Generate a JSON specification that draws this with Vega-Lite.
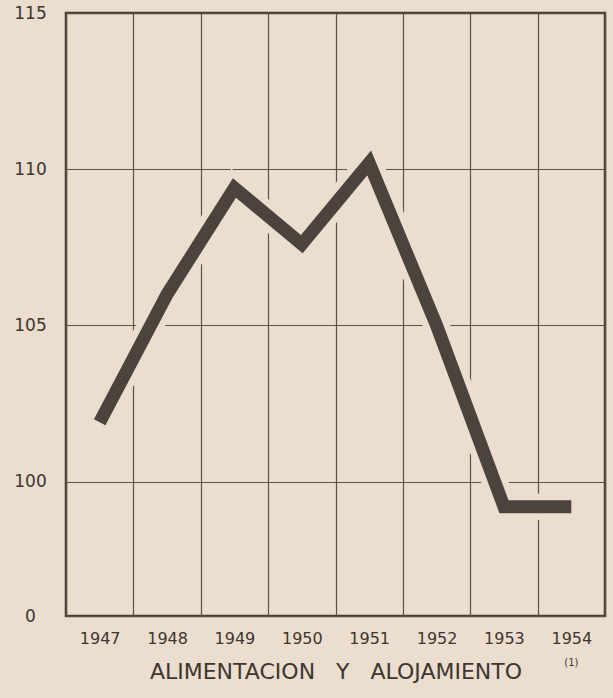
{
  "$schema": "https://vega.github.io/schema/vega-lite/v6.json",
  "autosize": "none",
  "width": 539,
  "height": 603,
  "padding": {"left": 66, "top": 13, "right": 8, "bottom": 82},
  "background": "#ebdecf",
  "config": {
    "view": {"stroke": "#463d36", "strokeWidth": 2.5, "fill": null},
    "font": "DejaVu Sans",
    "axis": {"labelFont": "DejaVu Sans", "titleFont": "DejaVu Sans", "labelColor": "#3d3530", "titleColor": "#3d3530"}
  },
  "data": {
    "values": [
      {"year": "1947", "value": 101.9},
      {"year": "1948", "value": 106.0},
      {"year": "1949", "value": 109.4},
      {"year": "1950", "value": 107.6},
      {"year": "1951", "value": 110.2},
      {"year": "1952", "value": 105.0},
      {"year": "1953", "value": 99.2},
      {"year": "1954", "value": 99.2}
    ]
  },
  "encoding": {
    "x": {
      "field": "year",
      "type": "ordinal",
      "scale": {"type": "band", "paddingInner": 0, "paddingOuter": 0},
      "axis": {
        "title": "ALIMENTACION\u00a0\u00a0\u00a0Y\u00a0\u00a0\u00a0ALOJAMIENTO",
        "titleFontSize": 22,
        "titleFontWeight": "normal",
        "titlePadding": 15,
        "labelFontSize": 16,
        "labelAngle": 0,
        "labelPadding": 14,
        "ticks": false,
        "domain": false,
        "grid": true,
        "tickBand": "extent",
        "gridColor": "#5a5048",
        "gridWidth": 1.2,
        "gridOpacity": 1
      }
    },
    "y": {
      "field": "value",
      "type": "quantitative",
      "scale": {"domain": [95.7, 115], "nice": false, "zero": false},
      "axis": {
        "title": null,
        "values": [95.7, 100, 105, 110, 115],
        "labelExpr": "datum.value < 99 ? '0' : datum.label",
        "labelFontSize": 17,
        "labelAlign": "center",
        "labelBaseline": "middle",
        "labelPadding": 36,
        "ticks": false,
        "domain": false,
        "grid": true,
        "gridColor": "#5a5048",
        "gridWidth": 1.2,
        "gridOpacity": 1
      }
    }
  },
  "layer": [
    {
      "mark": {"type": "line", "stroke": "#ebdecf", "strokeWidth": 26, "strokeJoin": "miter", "strokeCap": "butt"}
    },
    {
      "mark": {"type": "line", "stroke": "#4a433e", "strokeWidth": 13, "strokeJoin": "miter", "strokeCap": "butt"}
    },
    {
      "data": {"values": [{"year": "1954", "note": "(1)", "pos": 94.2}]},
      "mark": {"type": "text", "fontSize": 10, "color": "#3d3530", "baseline": "middle"},
      "encoding": {
        "y": {"field": "pos", "type": "quantitative"},
        "text": {"field": "note"}
      }
    }
  ]
}
